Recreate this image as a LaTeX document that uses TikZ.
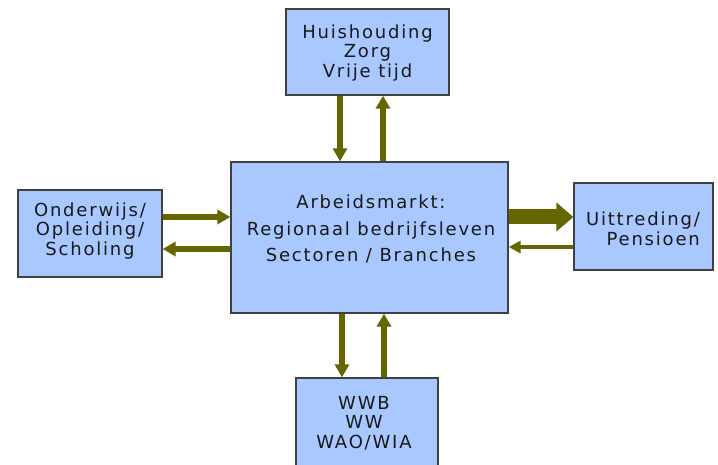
\documentclass[tikz,border=0pt]{standalone}
\usepackage{fontspec}
\setmainfont{DejaVu Sans}[LetterSpace=10]
\usetikzlibrary{arrows.meta}
\definecolor{boxfill}{RGB}{168,200,255}
\definecolor{flowcol}{RGB}{102,102,0}
\definecolor{edgecol}{RGB}{64,64,64}
\begin{document}
\begin{tikzpicture}[x=1pt,y=-1pt,
  box/.style={draw=edgecol,line width=1.3pt,fill=boxfill,inner sep=0pt},
  lbl/.style={align=center,font=\fontsize{18}{19.5}\selectfont,inner sep=0pt,text=black!90},
  flow/.style={draw=flowcol,line width=6pt,-{Triangle[width=14pt,length=13pt]}},
  thinflow/.style={draw=flowcol,line width=4.5pt,-{Triangle[width=12pt,length=12pt]}},
  bigflow/.style={draw=flowcol,line width=15pt,-{Triangle[width=28pt,length=17pt]}}]
\useasboundingbox (0,0) rectangle (718,465);
\fill[white] (0,0) rectangle (718,465);
% boxes
\node[box,minimum width=163pt,minimum height=86pt] (top) at (367.5,52) {};
\node[box,minimum width=277pt,minimum height=151pt] (mid) at (369.5,237.5) {};
\node[box,minimum width=144pt,minimum height=87pt] (left) at (90,233.5) {};
\node[box,minimum width=139pt,minimum height=87pt] (right) at (643.5,226.5) {};
\node[box,minimum width=142pt,minimum height=92pt] (bot) at (367,424) {};
% texts
\node[lbl] (toptext) at (367.5,53) {Huishouding\\Zorg\\Vrije tijd};
\node[lbl,font=\fontsize{18}{26.5}\selectfont] (midtext) at (371,229) {Arbeidsmarkt:\\Regionaal bedrijfsleven\\Sectoren / Branches};
\node[lbl] (lefttext) at (90,231) {Onderwijs/\\Opleiding/\\Scholing};
\node[lbl,align=right,anchor=east] (righttext) at (700,229) {Uittreding/\\Pensioen};
\node[lbl] (bottext) at (364,423) {WWB\\WW\\WAO/WIA};
% connectors
\draw[flow] (top.south -| 340,0) -- (mid.north -| 340,0);
\draw[flow] (mid.north -| 383,0) -- (top.south -| 383,0);
\draw[flow] (mid.south -| 342,0) -- (bot.north -| 342,0);
\draw[flow] (bot.north -| 384,0) -- (mid.south -| 384,0);
\draw[flow] (left.east |- 0,217) -- (mid.west |- 0,217);
\draw[flow] (mid.west |- 0,249) -- (left.east |- 0,249);
\draw[bigflow] (mid.east |- 0,217) -- (right.west |- 0,217);
\draw[thinflow] (right.west |- 0,247) -- (mid.east |- 0,247);
\end{tikzpicture}
\end{document}
